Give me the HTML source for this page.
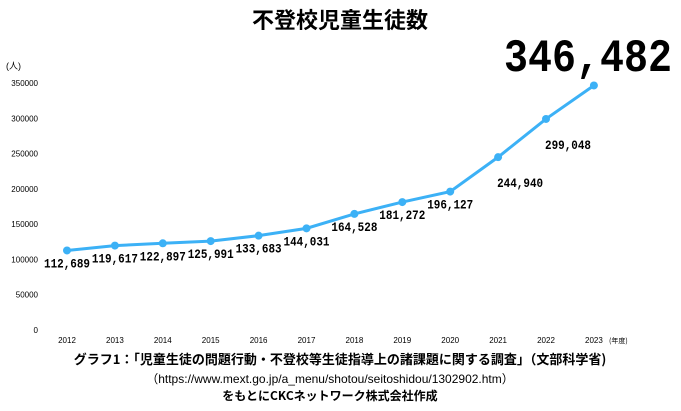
<!DOCTYPE html>
<html><head><meta charset="utf-8"><style>
body{margin:0;background:#fff;width:681px;height:406px;overflow:hidden}
svg text{font-family:"Liberation Sans","Noto Sans CJK JP",sans-serif}
svg text.mono{font-family:"Liberation Mono",monospace}
svg text.jp{font-family:"Noto Sans CJK JP",sans-serif}
</style></head><body>
<svg id="c" width="681" height="406" xmlns="http://www.w3.org/2000/svg">
<text class="jp" x="340" y="28" text-anchor="middle" font-size="22" font-weight="bold">不登校児童生徒数</text>
<text x="6" y="69" font-size="9">(人)</text>
<text class="jp" x="609" y="343" font-size="7">(年度)</text>
<text class="mono" x="588" y="71" text-anchor="middle" font-size="40" font-weight="bold" transform="translate(588,71) scale(1,1.15) translate(-588,-71)">346,482</text>
<g id="axes"></g><g id="marks"></g>
<text class="jp" x="340" y="364" text-anchor="middle" font-size="13" font-weight="bold">グラフ1：「児童生徒の問題行動・不登校等生徒指導上の諸課題に関する調査」（文部科学省)</text>
<text x="330" y="383" text-anchor="middle" font-size="12">（https://www.mext.go.jp/a_menu/shotou/seitoshidou/1302902.htm）</text>
<text class="jp" x="330" y="400" text-anchor="middle" font-size="12" font-weight="bold">をもとにCKCネットワーク株式会社作成</text>
</svg>
<script>
const years=["2012","2013","2014","2015","2016","2017","2018","2019","2020","2021","2022","2023"];
const values=[112689,119617,122897,125991,133683,144031,164528,181272,196127,244940,299048,346482];
const valueLabels=["112,689","119,617","122,897","125,991","133,683","144,031","164,528","181,272","196,127","244,940","299,048",""];
const yTicks=[0,50000,100000,150000,200000,250000,300000,350000];
const NS="http://www.w3.org/2000/svg";
const x=i=>67+i*47.9;
const y=v=>330-v*247/350000;
const axes=document.getElementById('axes'),marks=document.getElementById('marks');
function mk(tag,at,parent,txt){const e=document.createElementNS(NS,tag);for(const k in at)e.setAttribute(k,at[k]);if(txt!==undefined)e.textContent=txt;parent.appendChild(e);return e;}
yTicks.forEach(t=>{const e=mk('text',{x:38,y:y(t)+3,'text-anchor':'end','font-size':8},axes,String(t));

});
years.forEach((yr,i)=>{const e=mk('text',{x:x(i),y:343,'text-anchor':'middle','font-size':8},axes,yr);

});
const pl=mk('polyline',{points:values.map((v,i)=>x(i)+','+y(v)).join(' '),fill:'none',stroke:'#3cb1f6','stroke-width':3},marks);


values.forEach((v,i)=>{const c=mk('circle',{cx:x(i),cy:y(v),r:4,fill:'#3cb1f6'},marks);


if(valueLabels[i]){let lx=x(i),ly=y(v)+17;if(i>=9){lx=x(i)+22;ly=y(v)+30;}
const t=mk('text',{class:'mono',x:lx,y:ly,'text-anchor':'middle','font-size':13,'font-weight':'bold',textLength:46,lengthAdjust:'spacingAndGlyphs'},marks,valueLabels[i]);

}});
</script>
</body></html>
